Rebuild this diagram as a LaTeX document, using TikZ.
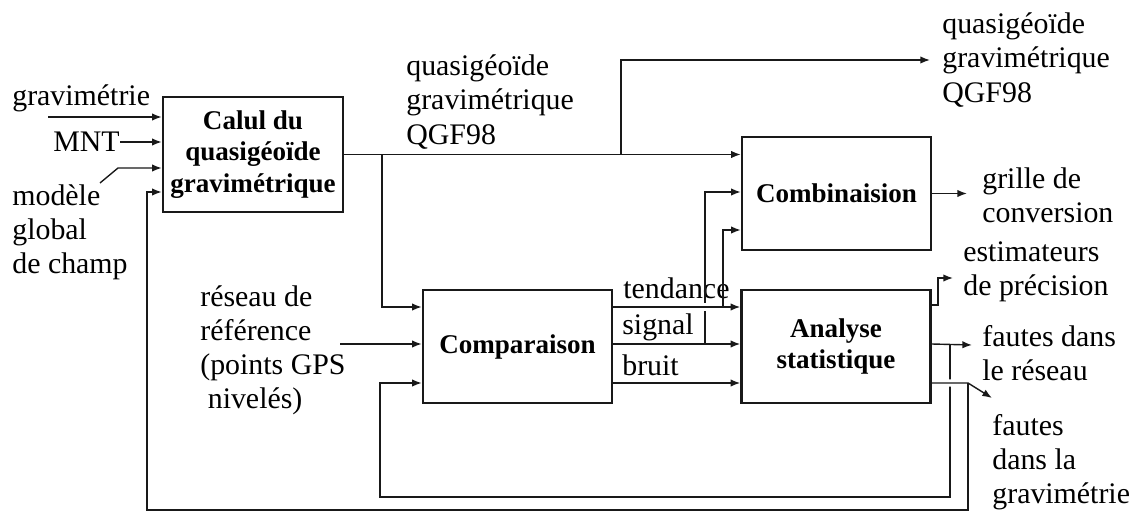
\documentclass[tikz,border=0pt]{standalone}
\usepackage{fontspec}
\setmainfont{Liberation Serif}
\usetikzlibrary{arrows.meta}

\begin{document}
\begin{tikzpicture}[x=0.02cm, y=-0.02cm]
    % Define colors
    \definecolor{linecolor}{RGB}{25, 25, 25}

    % Define styles
    \tikzset{
        bloc/.style={draw=linecolor, line width=1.4pt, minimum width=3.78cm, minimum height=2.26cm,
            inner sep=0pt, align=center, font=\fontsize{15.4}{18}\selectfont\bfseries},
        etiquette/.style={anchor=west, inner sep=0pt, align=left, font=\fontsize{17}{19.4}\selectfont},
        lien/.style={draw=linecolor, line width=0.8pt},
        fleche/.style={lien, -{Latex[length=5.5pt, width=4.2pt]}},
        saut/.style={preaction={draw=white, line width=4pt, -, shorten <=3pt, shorten >=3pt}}
    }

    % Fix the picture size
    \useasboundingbox (0,0) rectangle (1138,513);

    % Define the levels (y) of the connectors
    \coordinate (nRetourGrav) at (0,192);
    \coordinate (nCombSignal) at (0,192);
    \coordinate (nCombTend) at (0,230);
    \coordinate (nEstimHaut) at (0,278);
    \coordinate (nEstim) at (0,305);
    \coordinate (nTend) at (0,307);
    \coordinate (nSignal) at (0,344);
    \coordinate (nBruit) at (0,383);
    \coordinate (nRetourComp) at (0,497);
    \coordinate (nRetourGravBas) at (0,510);

    % Define the columns (x) of the vertical runs
    \coordinate (xRetourGrav) at (147,0);
    \coordinate (xRetourComp) at (380,0);
    \coordinate (xBrancheBas) at (382,0);
    \coordinate (xBrancheHaut) at (621,0);
    \coordinate (xSignal) at (705,0);
    \coordinate (xTend) at (723,0);
    \coordinate (xEstim) at (938,0);
    \coordinate (xFautes) at (950,0);
    \coordinate (xGravOut) at (968,0);

    % Free ends of the connectors
    \coordinate (gravDebut) at (48,117);
    \coordinate (modeleA) at (100,183);
    \coordinate (modeleB) at (118,168);
    \coordinate (reseauDebut) at (340,344);
    \coordinate (qgfFin) at (930,60);
    \coordinate (grilleFin) at (967,192);
    \coordinate (estimFin) at (953,278);
    \coordinate (fautesFin) at (972,345);
    \coordinate (gravFin) at (992,398);

    % Blocks
    \node[bloc, minimum width=3.6cm, minimum height=2.3cm] (calul) at (253,154.5) {Calul du\\quasigéoïde\\gravimétrique};
    \node[bloc] (comb) at (836.5,193.5) {Combinaision};
    \node[bloc] (comp) at (517.5,346.5) {Comparaison};
    \node[bloc] (anal) at (836,346.5) {Analyse\\statistique};

    % Labels
    \node[etiquette] (tGrav) at (12,98) {gravimétrie};
    \node[etiquette] (tMNT) at (53,142) {MNT};
    \node[etiquette] (tModele) at (12,232) {modèle\\global\\de champ};
    \node[etiquette] (qgfMilieu) at (406,102) {quasigéoïde\\gravimétrique\\QGF98};
    \node[etiquette] (qgfHaut) at (942,60) {quasigéoïde\\gravimétrique\\QGF98};
    \node[etiquette] (tGrille) at (982,195) {grille de\\conversion};
    \node[etiquette] (tEstim) at (963,272) {estimateurs\\de précision};
    \node[etiquette] (tFautesRes) at (982,353) {fautes dans\\le réseau};
    \node[etiquette] (tFautesGrav) at (992,462) {fautes\\dans la\\gravimétrie};
    \node[etiquette] (tReseau) at (200,350) {réseau de\\référence\\(points GPS\\\hspace{0.25em}nivelés)};
    \node[etiquette] (tTend) at (623,288) {tendance};
    \node[etiquette] (tSignal) at (622,327) {signal};
    \node[etiquette] (tBruit) at (622,365) {bruit};

    % Inputs of the gravimetric computation
    \draw[fleche] (gravDebut) -- (gravDebut -| calul.west);
    \draw[fleche] (tMNT.east) -- (tMNT.east -| calul.west);
    \draw[fleche] (modeleA) -- (modeleB) -- (modeleB -| calul.west);

    % Output of the gravimetric computation
    \draw[fleche] (calul.east) -- (comb.west |- calul.east);
    \draw[fleche] (xBrancheHaut |- calul.east) |- (qgfFin);
    \draw[fleche] (xBrancheBas |- calul.east) |- (comp.west |- nTend);

    % Inputs of the comparison
    \draw[fleche] (reseauDebut) -- (comp.west |- reseauDebut);

    % Signal and noise to the analysis, signal up to the combination
    \draw[fleche] (comp.east |- nSignal) -- (anal.west |- nSignal);
    \draw[fleche] (comp.east |- nBruit) -- (anal.west |- nBruit);
    \draw[fleche] (xSignal |- nSignal) |- (comb.west |- nCombSignal);

    % Trend (drawn over the signal run, with a hop)
    \draw[fleche, saut] (comp.east |- nTend) -- (anal.west |- nTend);
    \draw[fleche] (xTend |- nTend) |- (comb.west |- nCombTend);

    % Output of the combination
    \draw[fleche] (comb.east) -- (grilleFin |- comb.east);

    % Outputs of the analysis
    \draw[fleche] (anal.east |- nEstim) -| (xEstim |- nEstimHaut) -- (estimFin);
    \draw[fleche] (anal.east |- nSignal) -- (fautesFin);
    \draw[fleche] (xFautes |- nSignal) |- (xRetourComp |- nRetourComp) |- (comp.west |- nBruit);
    \draw[fleche, saut] (anal.east |- nBruit) -- (xGravOut |- nBruit) -- (gravFin);
    \draw[fleche] (xGravOut |- nBruit) |- (xRetourGrav |- nRetourGravBas) |- (calul.west |- nRetourGrav);

\end{tikzpicture}
\end{document}
